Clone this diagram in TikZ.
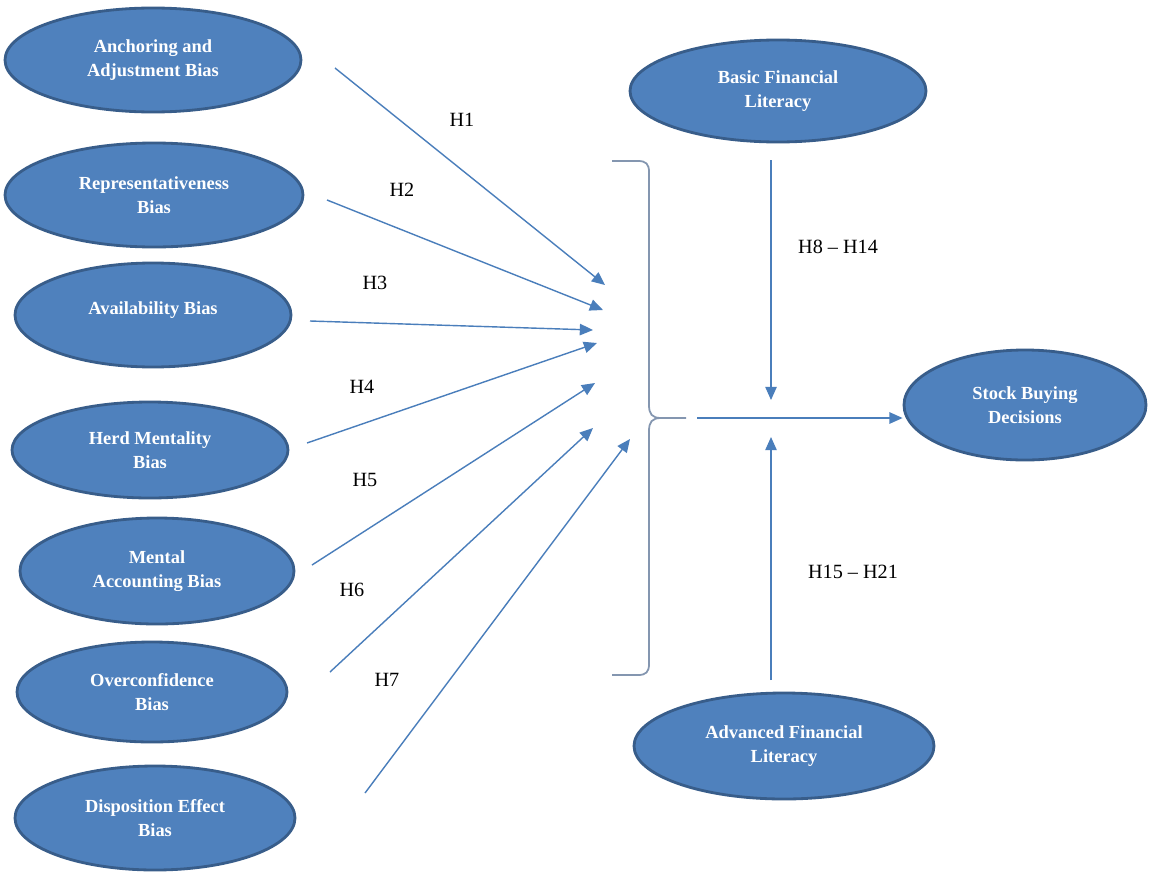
\documentclass[tikz,border=0pt]{standalone}
\usepackage{fontspec}
\setmainfont{Liberation Serif}
\usetikzlibrary{shapes.geometric,arrows.meta}
\definecolor{efill}{HTML}{4F81BD}
\definecolor{edraw}{HTML}{385D8A}
\definecolor{conn}{HTML}{4A7EBB}
\definecolor{brc}{HTML}{8496B0}
\begin{document}
\begin{tikzpicture}[x=0.02cm,y=-0.02cm,
  bias/.style 2 args={ellipse,fill=efill,draw=edraw,line width=1.6pt,inner sep=0pt,
    minimum width=#1*0.02cm,minimum height=#2*0.02cm,
    text=white,font=\fontsize{10.5}{13.5}\selectfont\bfseries,align=center},
  arr/.style={draw=conn,line width=0.8pt,-{Triangle[length=7.5pt,width=6.5pt]},color=conn},
  hlab/.style={font=\fontsize{11.5}{14}\selectfont,text=black,inner sep=0pt},
  bracestyle/.style={draw=brc,line width=1pt}]
\path[use as bounding box] (0,0) rectangle (1155,872);
\fill[white] (0,0) rectangle (1155,872);

% left ellipses
\node[bias={296}{104}] (a1) at (153,60) {Anchoring and\\Adjustment Bias};
\node[bias={298}{104}] (a2) at (154,195) {Representativeness\\Bias};
\node[bias={276}{104}] (a3) at (153,315) {Availability Bias\\[-6pt]\mbox{}};
\node[bias={276}{96}] (a4) at (150,450) {Herd Mentality\\Bias};
\node[bias={274}{106}] (a5) at (157,571) {Mental\\Accounting Bias};
\node[bias={270}{100}] (a6) at (152,692) {Overconfidence\\Bias};
\node[bias={280}{104}] (a7) at (155,818) {Disposition Effect\\Bias};

% right ellipses
\node[bias={296}{102}] (basic) at (778,91) {Basic Financial\\Literacy};
\node[bias={300}{106}] (adv) at (784,746) {Advanced Financial\\Literacy};
\node[bias={242}{110}] (stock) at (1025,405) {Stock Buying\\Decisions};

% arrow end points
\coordinate (s1) at (335,68);  \coordinate (t1) at (605,285);
\coordinate (s2) at (327,200); \coordinate (t2) at (603,310);
\coordinate (s3) at (310,321); \coordinate (t3) at (593,330);
\coordinate (s4) at (307,443); \coordinate (t4) at (597,343);
\coordinate (s5) at (312,565); \coordinate (t5) at (595,383);
\coordinate (s6) at (330,672); \coordinate (t6) at (593,428);
\coordinate (s7) at (365,793); \coordinate (t7) at (630,439);

\draw[arr] (s1) -- (t1);
\draw[arr] (s2) -- (t2);
\draw[arr] (s3) -- (t3);
\draw[arr] (s4) -- (t4);
\draw[arr] (s5) -- (t5);
\draw[arr] (s6) -- (t6);
\draw[arr] (s7) -- (t7);

% labels
\node[hlab] (h1) at (462,120) {H1};
\node[hlab] (h2) at (402,190) {H2};
\node[hlab] (h3) at (375,283) {H3};
\node[hlab] (h4) at (362,387) {H4};
\node[hlab] (h5) at (365,480) {H5};
\node[hlab] (h6) at (352,590) {H6};
\node[hlab] (h7) at (387,680) {H7};
\node[hlab] (h8) at (838,247) {H8 -- H14};
\node[hlab] (h15) at (853,572) {H15 -- H21};

% brace
\coordinate (btop) at (612,161);
\coordinate (bbot) at (612,675);
\coordinate (btip) at (661,418);
\coordinate (btail) at (686,418);
\draw[bracestyle] (btop) -- (638,161) .. controls (646,161) and (649,164) .. (649,172)
  -- (649,405) .. controls (649,414) and (652,418) .. (btip) -- (btail);
\draw[bracestyle] (btip) .. controls (652,418) and (649,422) .. (649,431)
  -- (649,664) .. controls (649,672) and (646,675) .. (638,675) -- (bbot);

% moderator and main arrows
\coordinate (v1s) at (771,160); \coordinate (v1e) at (771,400);
\coordinate (v2s) at (771,680); \coordinate (v2e) at (771,437);
\coordinate (hs) at (697,418);
\draw[arr] (v1s) -- (v1e);
\draw[arr] (v2s) -- (v2e);
\draw[arr] (hs) -- (stock.west |- hs);
\end{tikzpicture}
\end{document}
